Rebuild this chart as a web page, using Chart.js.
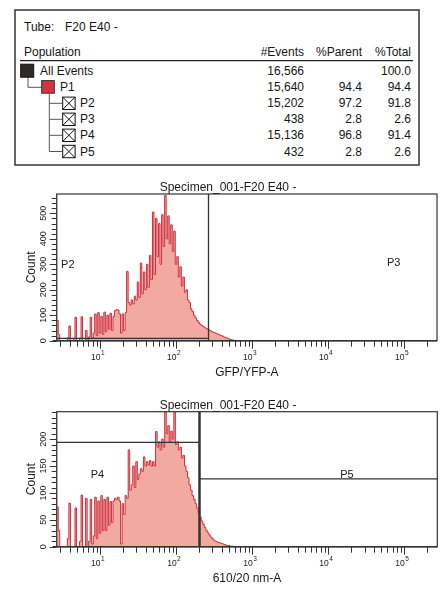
<!DOCTYPE html>
<html><head><meta charset="utf-8">
<script src="https://cdn.jsdelivr.net/npm/chart.js@4.4.0/dist/chart.umd.min.js"></script>
<style>
html,body{margin:0;padding:0;background:#fff;}
body{width:445px;height:599px;position:relative;overflow:hidden;font-family:"Liberation Sans",Arial,sans-serif;color:#161616;}
.t{position:absolute;font-size:12px;line-height:14px;white-space:nowrap;}
canvas{position:absolute;left:0;}
svg{position:absolute;left:0;top:0;}
</style></head><body>
<svg id="deco" width="445" height="170"></svg>
<div id="tbl"></div>
<canvas id="c1" width="445" height="207" style="top:178px"></canvas>
<canvas id="c2" width="445" height="200" style="top:396px"></canvas>
<script>
// ---------- table data ----------
const tubeName = 'F20 E40 -';
const tableHeaders = ['#Events', '%Parent', '%Total'];
const populations = ['All Events', 'P1', 'P2', 'P3', 'P4', 'P5'];
const eventCounts = ['16,566', '15,640', '15,202', '438', '15,136', '432'];
const percentParent = ['', '94.4', '97.2', '2.8', '96.8', '2.8'];
const percentTotal = ['100.0', '94.4', '91.8', '2.6', '91.4', '2.6'];

// ---------- histogram data ----------
const specimenTitle = 'Specimen_001-F20 E40 -';
const xAxisTitles = ['GFP/YFP-A', '610/20 nm-A'];
const xTickExponents = [1, 2, 3, 4, 5];
const yTicksGfp = [0, 100, 200, 300, 400, 500];
const yTicksRed = [0, 50, 100, 150, 200];
// histogram bins: 0.02 decade wide, first bin starting at 10^0.43
const BIN_START_LOG = 0.43, BIN_WIDTH_LOG = 0.02;
const gfpCounts = [800,80,25,0,0,0,0,0,12,58,
 0,0,8,92,0,0,10,94,0,0,
 40,0,15,92,10,30,105,20,110,30,
 95,25,112,35,100,45,108,40,95,118,
 122,120,105,30,105,40,110,272,150,140,
 160,145,175,160,230,170,305,185,270,200,
 300,210,335,240,505,260,480,330,460,300,
 495,370,570,400,490,380,455,350,430,300,
 330,250,290,215,250,190,200,160,150,125,
 115,100,90,80,72,65,60,56,52,48,
 45,42,38,35,32,30,27,25,22,20,
 17,14,12,9,7,5,3,2,1];
const redCounts = [800,74,30,0,0,0,0,0,15,81,
 0,0,0,72,0,0,10,96,0,0,
 90,0,10,88,5,20,92,15,85,25,
 95,30,88,30,92,40,84,45,85,90,
 88,92,85,5,80,60,95,90,180,105,
 115,150,110,158,125,135,145,140,167,150,
 158,152,160,150,158,150,214,185,195,180,
 200,185,260,210,225,195,215,200,262,190,
 195,180,185,165,170,150,140,128,115,105,
 95,88,80,72,62,55,48,42,36,30,
 26,22,18,15,12,10,9,8,7,6,
 5,4,3,2,2,1,1,0];
// gates
const gfpGateSplit = 261, gfpP2Level = 9;
const redGateSplit = 201, redP4Level = 194, redP5Level = 126;
const X_MIN = Math.pow(10, 0.43), X_MAX = Math.pow(10, 5.434);

// ---------- table rendering ----------
(function(){
  const host = document.getElementById('tbl');
  function txt(s, x, y, align){
    const d = document.createElement('div');
    d.className = 't'; d.textContent = s;
    d.style.top = (y - 7) + 'px';
    if (align === 'right') d.style.right = (445 - x) + 'px'; else d.style.left = x + 'px';
    host.appendChild(d);
  }
  txt('Tube:', 24, 27); txt(tubeName, 65, 27);
  txt('Population', 24, 51.5);
  const colRight = [304, 362, 411];
  tableHeaders.forEach((h, i) => txt(h, colRight[i], 51.5, 'right'));
  const rowY = [70.7, 87.3, 103.3, 119.3, 135.3, 151.5];
  const nameX = [40, 60, 80, 80, 80, 80];
  populations.forEach((p, i) => {
    txt(p, nameX[i], rowY[i]);
    txt(eventCounts[i], colRight[0], rowY[i], 'right');
    if (percentParent[i]) txt(percentParent[i], colRight[1], rowY[i], 'right');
    txt(percentTotal[i], colRight[2], rowY[i], 'right');
  });
  const svg = document.getElementById('deco');
  let s = '';
  s += '<rect x="15" y="10" width="404" height="155" fill="none" stroke="#333" stroke-width="1.5"/>';
  s += '<line x1="20" y1="60.7" x2="413" y2="60.7" stroke="#222" stroke-width="1.2"/>';
  s += '<polyline points="28,77 28,87.3 41.7,87.3" fill="none" stroke="#555" stroke-width="1"/>';
  s += '<rect x="20.7" y="64.2" width="13" height="13" fill="#2e2b29" stroke="#111" stroke-width="1"/>';
  s += '<rect x="41.7" y="80.6" width="12.6" height="12.6" fill="#d7323f" stroke="#333" stroke-width="1"/>';
  s += '<line x1="49.3" y1="93.2" x2="49.3" y2="151.5" stroke="#555" stroke-width="1"/>';
  for (let i = 2; i < 6; i++) {
    const cy = rowY[i];
    s += `<line x1="49.3" y1="${cy}" x2="62.7" y2="${cy}" stroke="#555" stroke-width="1"/>`;
    s += `<rect x="62.7" y="${cy-6.2}" width="12.4" height="12.4" fill="#fff" stroke="#111" stroke-width="1"/>`;
    s += `<line x1="62.7" y1="${cy-6.2}" x2="75.1" y2="${cy+6.2}" stroke="#111" stroke-width="1"/>`;
    s += `<line x1="75.1" y1="${cy-6.2}" x2="62.7" y2="${cy+6.2}" stroke="#111" stroke-width="1"/>`;
  }
  svg.innerHTML = s;
})();

// ---------- charts ----------
const FONT = '"Liberation Sans", Arial, sans-serif';
function binPoints(counts){
  const pts = counts.map((c, i) => ({x: Math.pow(10, BIN_START_LOG + BIN_WIDTH_LOG * i), y: c}));
  pts.push({x: Math.pow(10, BIN_START_LOG + BIN_WIDTH_LOG * counts.length), y: 0});
  return pts;
}

const facsFrame = {
  id: 'facsFrame',
  afterDraw(chart, args, o) {
    const ctx = chart.ctx, a = chart.chartArea, x = chart.scales.x, y = chart.scales.y;
    ctx.save();
    ctx.strokeStyle = '#333'; ctx.fillStyle = '#1a1a1a';
    // gates
    const gx = Math.round(x.getPixelForValue(o.split)) + 0.5;
    ctx.lineWidth = o.splitWidth;
    ctx.beginPath(); ctx.moveTo(gx, a.top); ctx.lineTo(gx, a.bottom); ctx.stroke();
    ctx.lineWidth = 1.2;
    o.levels.forEach(g => {
      const yy = y.getPixelForValue(g.y);
      ctx.beginPath(); ctx.moveTo(x.getPixelForValue(g.from), yy); ctx.lineTo(x.getPixelForValue(g.to), yy); ctx.stroke();
    });
    ctx.font = '11px ' + FONT; ctx.textBaseline = 'middle'; ctx.textAlign = 'left';
    o.labels.forEach(l => ctx.fillText(l.text, x.getPixelForValue(l.x), y.getPixelForValue(l.y)));
    // frame
    ctx.lineWidth = 1.2;
    ctx.strokeRect(a.left, a.top, a.right - a.left, a.bottom - a.top);
    ctx.lineWidth = 1.6;
    ctx.beginPath(); ctx.moveTo(a.left - 4, a.bottom); ctx.lineTo(a.right, a.bottom); ctx.stroke();
    // x ticks
    ctx.lineWidth = 1;
    for (let d = 0; d <= 5; d++) {
      for (let m = 1; m <= 9; m++) {
        const v = m * Math.pow(10, d);
        if (v < X_MIN || v > X_MAX) continue;
        const px = Math.round(x.getPixelForValue(v)) + 0.5;
        const len = m === 1 ? 8 : 6;
        ctx.beginPath(); ctx.moveTo(px, a.bottom); ctx.lineTo(px, a.bottom + len); ctx.stroke();
      }
    }
    xTickExponents.forEach(e => {
      const px = x.getPixelForValue(Math.pow(10, e));
      ctx.font = '8.5px ' + FONT; ctx.textAlign = 'right'; ctx.textBaseline = 'alphabetic';
      ctx.fillText('10', px + 0.5, a.bottom + 19);
      ctx.font = '6.5px ' + FONT; ctx.textAlign = 'left';
      ctx.fillText(String(e), px + 1, a.bottom + 14.5);
    });
    // y ticks
    for (let v = 0; v <= y.max; v += o.yMinor) {
      const py = Math.round(y.getPixelForValue(v)) + 0.5;
      const major = o.yTicks.includes(v);
      ctx.beginPath(); ctx.moveTo(a.left - (major ? 7 : 5), py); ctx.lineTo(a.left, py); ctx.stroke();
    }
    ctx.font = '9px ' + FONT; ctx.textAlign = 'center'; ctx.textBaseline = 'middle';
    o.yTicks.forEach(v => {
      ctx.save(); ctx.translate(a.left - 12.7, y.getPixelForValue(v)); ctx.rotate(-Math.PI / 2);
      ctx.fillText(String(v), 0, 0); ctx.restore();
    });
    // titles
    ctx.font = '12px ' + FONT; ctx.textAlign = 'center'; ctx.textBaseline = 'middle';
    ctx.fillText(specimenTitle, 228, a.top - 6.5);
    ctx.fillText(o.xTitle, (a.left + a.right) / 2, a.bottom + 31.5);
    ctx.save(); ctx.translate(a.left - 25, (a.top + a.bottom) / 2); ctx.rotate(-Math.PI / 2);
    ctx.fillText('Count', 0, 0); ctx.restore();
    ctx.restore();
  }
};

function makeChart(id, counts, yMax, pad, frameOpts){
  return new Chart(document.getElementById(id), {
    type: 'line',
    data: { datasets: [{
      data: binPoints(counts), stepped: 'after', fill: 'origin',
      backgroundColor: 'rgba(240,160,150,0.9)', borderColor: '#cf2f3d', borderWidth: 1,
      pointRadius: 0, tension: 0
    }]},
    options: {
      responsive: false, animation: false, devicePixelRatio: 1,
      layout: { padding: pad },
      scales: {
        x: { type: 'logarithmic', min: X_MIN, max: X_MAX, display: false },
        y: { type: 'linear', min: 0, max: yMax, display: false }
      },
      plugins: { legend: { display: false }, tooltip: { enabled: false }, facsFrame: frameOpts }
    },
    plugins: [facsFrame]
  });
}

makeChart('c1', gfpCounts, 576, {left: 56.7, right: 8, top: 16, bottom: 44.3}, {
  split: gfpGateSplit, splitWidth: 1.3,
  levels: [{from: X_MIN, to: gfpGateSplit, y: gfpP2Level}],
  labels: [{text: 'P2', x: 3.07, y: 297}, {text: 'P3', x: 59700, y: 304}],
  yTicks: yTicksGfp, yMinor: 20, xTitle: xAxisTitles[0]
});
makeChart('c2', redCounts, 251, {left: 56.7, right: 7.7, top: 15.7, bottom: 49.3}, {
  split: redGateSplit, splitWidth: 2.5,
  levels: [{from: X_MIN, to: redGateSplit, y: redP4Level}, {from: redGateSplit, to: X_MAX, y: redP5Level}],
  labels: [{text: 'P4', x: 7.55, y: 133}, {text: 'P5', x: 14380, y: 133}],
  yTicks: yTicksRed, yMinor: 10, xTitle: xAxisTitles[1]
});
</script>
</body></html>
